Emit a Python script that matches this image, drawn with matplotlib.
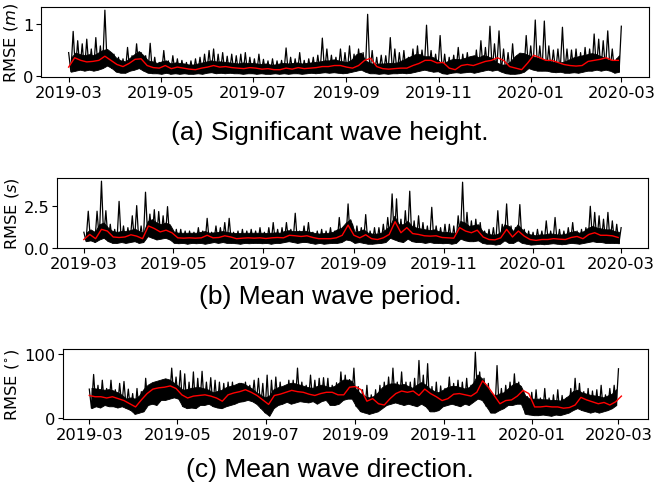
import numpy as np
import pandas as pd
import matplotlib
matplotlib.use("Agg")
import matplotlib.pyplot as plt
import matplotlib.dates as mdates

# RMSE readings, 2019-03-01 .. 2020-03-01
# *_peak: spike tops every 3 days; *_low: troughs 1.5 days later;
# *_band: top of the solid black band at the trough dates; *_mean: red line, every 4 days
hs_peak = [0.45, 0.86, 0.68, 0.62, 0.71, 0.52, 0.74, 0.58, 1.27, 0.45,
           0.42, 0.36, 0.33, 0.55, 0.39, 0.62, 0.45, 0.39, 0.63, 0.36,
           0.26, 0.49, 0.29, 0.39, 0.33, 0.30, 0.26, 0.29, 0.33, 0.36,
           0.42, 0.49, 0.52, 0.42, 0.45, 0.38, 0.42, 0.39, 0.42, 0.45,
           0.36, 0.33, 0.42, 0.32, 0.29, 0.33, 0.29, 0.30, 0.54, 0.36,
           0.33, 0.45, 0.30, 0.33, 0.36, 0.40, 0.73, 0.52, 0.40, 0.36,
           0.52, 0.45, 0.58, 0.42, 0.52, 0.45, 1.19, 0.49, 0.36, 0.40,
           0.39, 0.74, 0.52, 0.45, 0.49, 0.36, 0.52, 0.58, 0.50, 0.98,
           0.49, 0.42, 0.78, 0.42, 0.36, 0.40, 0.55, 0.42, 0.45, 0.36,
           0.50, 0.68, 0.55, 0.96, 0.62, 0.87, 0.52, 0.45, 0.62, 0.39,
           0.33, 0.78, 0.58, 1.08, 0.58, 1.06, 0.58, 0.50, 0.52, 0.94,
           0.52, 0.50, 0.52, 0.45, 0.55, 0.52, 0.81, 0.71, 0.68, 0.87,
           0.52, 0.33, 0.96]
hs_low = [0.08, 0.10, 0.12, 0.10, 0.12, 0.10, 0.12, 0.15, 0.20, 0.15,
          0.08, 0.06, 0.06, 0.10, 0.12, 0.15, 0.10, 0.06, 0.05, 0.05,
          0.04, 0.06, 0.04, 0.05, 0.04, 0.05, 0.04, 0.04, 0.05, 0.04,
          0.06, 0.07, 0.05, 0.06, 0.05, 0.06, 0.05, 0.05, 0.04, 0.05,
          0.05, 0.04, 0.05, 0.04, 0.04, 0.05, 0.04, 0.05, 0.04, 0.05,
          0.05, 0.04, 0.05, 0.06, 0.05, 0.06, 0.07, 0.06, 0.07, 0.06,
          0.05, 0.06, 0.08, 0.10, 0.12, 0.08, 0.05, 0.05, 0.04, 0.05,
          0.04, 0.05, 0.05, 0.06, 0.05, 0.06, 0.08, 0.10, 0.12, 0.10,
          0.08, 0.09, 0.05, 0.04, 0.06, 0.07, 0.06, 0.07, 0.08, 0.06,
          0.08, 0.10, 0.12, 0.10, 0.12, 0.08, 0.05, 0.04, 0.04, 0.05,
          0.08, 0.15, 0.12, 0.10, 0.10, 0.10, 0.08, 0.07, 0.08, 0.06,
          0.06, 0.07, 0.06, 0.08, 0.10, 0.10, 0.12, 0.10, 0.12, 0.10,
          0.06, 0.08]
hs_band = [0.35, 0.45, 0.42, 0.40, 0.42, 0.40, 0.45, 0.50, 0.52, 0.45,
           0.35, 0.30, 0.28, 0.35, 0.42, 0.48, 0.40, 0.30, 0.28, 0.25,
           0.28, 0.30, 0.24, 0.26, 0.25, 0.24, 0.22, 0.22, 0.24, 0.26,
           0.28, 0.30, 0.28, 0.28, 0.27, 0.26, 0.25, 0.24, 0.26, 0.25,
           0.25, 0.24, 0.23, 0.24, 0.22, 0.22, 0.24, 0.25, 0.24, 0.25,
           0.26, 0.24, 0.25, 0.26, 0.27, 0.28, 0.30, 0.30, 0.32, 0.30,
           0.28, 0.27, 0.32, 0.42, 0.45, 0.30, 0.25, 0.23, 0.24, 0.24,
           0.25, 0.25, 0.26, 0.30, 0.34, 0.38, 0.42, 0.42, 0.38, 0.38,
           0.36, 0.30, 0.24, 0.28, 0.32, 0.33, 0.32, 0.35, 0.38, 0.40,
           0.36, 0.40, 0.38, 0.34, 0.26, 0.22, 0.22, 0.28, 0.38, 0.45,
           0.44, 0.40, 0.38, 0.35, 0.33, 0.30, 0.28, 0.27, 0.26, 0.28,
           0.32, 0.36, 0.38, 0.40, 0.42, 0.44, 0.42, 0.38, 0.34, 0.30,
           0.30, 0.40]
hs_mean = [0.17, 0.35, 0.30, 0.27, 0.28, 0.30, 0.38, 0.30, 0.22, 0.18,
           0.24, 0.32, 0.33, 0.20, 0.16, 0.15, 0.20, 0.14, 0.17, 0.15,
           0.13, 0.12, 0.15, 0.17, 0.20, 0.17, 0.18, 0.16, 0.15, 0.14,
           0.16, 0.15, 0.13, 0.14, 0.12, 0.12, 0.15, 0.13, 0.16, 0.14,
           0.15, 0.16, 0.18, 0.18, 0.20, 0.20, 0.17, 0.15, 0.20, 0.30,
           0.34, 0.18, 0.14, 0.13, 0.14, 0.15, 0.15, 0.20, 0.24, 0.30,
           0.30, 0.25, 0.26, 0.15, 0.12, 0.20, 0.22, 0.20, 0.24, 0.28,
           0.30, 0.35, 0.30, 0.18, 0.15, 0.12, 0.25, 0.40, 0.35, 0.30,
           0.30, 0.26, 0.22, 0.20, 0.19, 0.20, 0.28, 0.30, 0.32, 0.35,
           0.30, 0.30]

tm_peak = [0.93, 2.17, 0.93, 2.17, 3.94, 2.20, 1.40, 1.10, 2.75, 1.30,
           1.20, 1.90, 2.50, 1.30, 3.29, 2.00, 2.26, 2.15, 1.90, 2.44,
           0.95, 1.10, 1.10, 1.00, 1.00, 0.93, 1.20, 1.00, 1.75, 0.93,
           1.30, 1.20, 1.50, 1.75, 0.93, 1.00, 1.10, 1.00, 1.10, 1.00,
           1.20, 0.93, 1.20, 1.50, 1.10, 1.20, 1.50, 1.10, 2.05, 1.00,
           1.30, 1.50, 0.93, 1.00, 1.10, 1.00, 1.20, 1.00, 1.80, 1.10,
           2.60, 1.40, 1.30, 1.20, 1.97, 1.00, 1.20, 1.20, 1.40, 1.80,
           3.19, 2.90, 1.70, 2.20, 3.35, 1.60, 1.90, 1.50, 1.30, 2.40,
           1.30, 1.20, 1.40, 1.40, 1.30, 1.90, 3.88, 2.10, 1.60, 1.70,
           1.50, 1.00, 1.10, 1.20, 2.20, 1.40, 2.60, 1.30, 1.20, 2.56,
           1.10, 1.00, 0.93, 1.10, 1.00, 1.60, 1.00, 1.80, 1.10, 1.00,
           1.20, 1.50, 1.00, 1.10, 1.20, 2.46, 2.10, 1.90, 1.70, 2.10,
           1.60, 1.40, 1.20]
tm_low = [0.40, 0.45, 0.35, 0.50, 0.60, 0.40, 0.30, 0.30, 0.35, 0.30,
          0.35, 0.40, 0.30, 0.35, 0.70, 0.60, 0.50, 0.55, 0.60, 0.50,
          0.30, 0.28, 0.30, 0.25, 0.30, 0.28, 0.30, 0.25, 0.30, 0.35,
          0.30, 0.35, 0.30, 0.30, 0.28, 0.25, 0.30, 0.28, 0.30, 0.30,
          0.28, 0.30, 0.25, 0.30, 0.30, 0.35, 0.40, 0.35, 0.30, 0.35,
          0.35, 0.30, 0.25, 0.30, 0.25, 0.28, 0.30, 0.30, 0.35, 0.50,
          0.45, 0.30, 0.35, 0.30, 0.25, 0.25, 0.28, 0.30, 0.35, 0.60,
          0.50, 0.40, 0.35, 0.55, 0.40, 0.35, 0.35, 0.30, 0.35, 0.30,
          0.30, 0.28, 0.30, 0.25, 0.30, 0.55, 0.45, 0.40, 0.40, 0.45,
          0.30, 0.25, 0.25, 0.20, 0.25, 0.45, 0.30, 0.30, 0.45, 0.30,
          0.25, 0.20, 0.22, 0.25, 0.22, 0.25, 0.28, 0.25, 0.22, 0.25,
          0.30, 0.28, 0.25, 0.30, 0.35, 0.40, 0.35, 0.35, 0.30, 0.30,
          0.30, 0.28]
tm_band = [0.90, 1.10, 0.95, 1.40, 1.50, 1.20, 1.00, 0.95, 1.00, 1.00,
           1.05, 1.15, 1.00, 0.90, 1.60, 1.70, 1.50, 1.40, 1.50, 1.40,
           0.95, 0.90, 0.90, 0.90, 0.90, 0.90, 0.95, 1.00, 0.90, 0.92,
           0.95, 1.00, 0.95, 0.90, 0.88, 0.88, 0.90, 0.90, 0.90, 0.90,
           0.90, 0.88, 0.90, 0.92, 0.90, 1.00, 1.05, 1.00, 1.00, 1.00,
           1.00, 0.95, 0.88, 0.85, 0.88, 0.90, 0.95, 1.10, 1.20, 1.50,
           1.70, 0.95, 1.00, 1.10, 0.90, 0.85, 0.85, 0.90, 1.10, 1.30,
           1.90, 1.40, 1.40, 1.60, 1.30, 1.20, 1.15, 1.10, 1.05, 1.10,
           1.00, 0.95, 0.95, 0.90, 0.90, 1.60, 1.50, 1.30, 1.35, 1.40,
           1.00, 0.85, 0.80, 0.80, 0.90, 1.40, 1.30, 1.00, 1.40, 1.10,
           0.85, 0.80, 0.75, 0.80, 0.80, 0.85, 0.85, 0.80, 0.80, 0.85,
           0.95, 1.00, 0.90, 1.00, 1.20, 1.30, 1.20, 1.15, 1.10, 1.10,
           1.00, 0.95]
tm_mean = [0.50, 0.80, 0.55, 1.10, 1.00, 0.65, 0.62, 0.65, 0.78, 0.70,
           0.55, 1.30, 1.15, 0.95, 1.05, 0.90, 0.60, 0.58, 0.60, 0.58,
           0.60, 0.75, 0.60, 0.62, 0.72, 0.65, 0.55, 0.58, 0.60, 0.58,
           0.60, 0.56, 0.60, 0.62, 0.60, 0.75, 0.72, 0.68, 0.72, 0.62,
           0.55, 0.55, 0.55, 0.60, 0.75, 1.35, 0.75, 0.60, 0.78, 0.55,
           0.50, 0.60, 0.80, 1.55, 0.90, 1.20, 0.85, 0.80, 0.72, 0.70,
           0.72, 0.62, 0.60, 0.58, 1.20, 1.00, 0.90, 1.05, 0.65, 0.50,
           0.48, 0.60, 1.10, 0.65, 1.00, 0.70, 0.50, 0.45, 0.50, 0.50,
           0.55, 0.52, 0.50, 0.62, 0.68, 0.55, 0.80, 0.90, 0.75, 0.75,
           0.72, 0.62]

md_peak = [45, 68, 51, 59, 46, 59, 44, 54, 57, 45,
           38, 46, 41, 62, 46, 51, 48, 59, 51, 78,
           64, 74, 69, 56, 72, 62, 73, 56, 63, 59,
           56, 54, 56, 56, 51, 54, 56, 51, 59, 62,
           54, 67, 59, 64, 56, 46, 59, 59, 78, 56,
           51, 67, 59, 62, 63, 62, 51, 55, 72, 67,
           60, 78, 49, 44, 51, 36, 44, 51, 56, 64,
           78, 56, 72, 56, 56, 62, 90, 67, 85, 49,
           56, 50, 46, 64, 54, 59, 56, 62, 51, 103,
           72, 62, 54, 33, 82, 46, 51, 56, 69, 56,
           40, 33, 40, 44, 31, 46, 31, 36, 44, 35,
           31, 46, 62, 54, 41, 46, 42, 44, 51, 36,
           46, 51, 77]
md_low = [15, 18, 16, 20, 18, 18, 16, 18, 15, 12,
          6, 8, 10, 20, 22, 20, 28, 28, 30, 32,
          30, 18, 15, 16, 15, 20, 20, 22, 18, 16,
          15, 18, 20, 22, 25, 26, 28, 26, 22, 15,
          8, 3, 15, 20, 22, 25, 22, 24, 26, 25,
          24, 26, 22, 26, 28, 20, 20, 22, 28, 30,
          30, 18, 10, 8, 6, 8, 10, 15, 20, 22,
          24, 22, 20, 22, 20, 18, 22, 18, 10, 10,
          12, 18, 20, 22, 20, 18, 22, 20, 25, 30,
          28, 18, 8, 8, 12, 15, 20, 20, 22, 22,
          6, 5, 4, 4, 5, 4, 3, 5, 4, 6,
          8, 12, 15, 12, 10, 8, 10, 8, 10, 12,
          15, 20]
md_band = [47, 46, 45, 44, 45, 43, 40, 36, 30, 32,
           30, 35, 45, 52, 56, 58, 60, 62, 60, 55,
           50, 44, 45, 47, 48, 48, 46, 44, 40, 42,
           44, 48, 50, 52, 55, 54, 50, 46, 40, 36,
           32, 35, 45, 48, 50, 53, 55, 54, 52, 50,
           48, 47, 50, 52, 50, 48, 50, 55, 60, 60,
           58, 45, 38, 34, 32, 34, 40, 48, 52, 54,
           54, 52, 53, 50, 47, 52, 56, 52, 46, 42,
           40, 44, 48, 50, 50, 48, 46, 48, 55, 68,
           62, 50, 40, 35, 38, 40, 46, 52, 55, 50,
           35, 30, 30, 30, 29, 29, 28, 28, 27, 30,
           35, 42, 44, 40, 38, 36, 35, 34, 32, 35,
           38, 45]
md_mean = [35, 33, 33, 31, 33, 30, 27, 22, 17, 28,
           38, 45, 47, 48, 50, 46, 36, 31, 34, 35,
           36, 34, 31, 26, 36, 39, 41, 44, 40, 35,
           28, 21, 35, 37, 40, 43, 41, 40, 37, 35,
           38, 40, 40, 36, 36, 48, 49, 44, 26, 30,
           22, 20, 30, 38, 42, 40, 42, 35, 45, 38,
           33, 27, 30, 37, 38, 36, 34, 40, 58, 48,
           35, 22, 27, 28, 34, 43, 38, 17, 17, 18,
           17, 17, 15, 16, 20, 32, 28, 25, 22, 24,
           20, 25, 34]

ylabels = ["RMSE ($m$)", "RMSE ($s$)", "RMSE ($^{\\circ}$)"]
captions = ["(a) Significant wave height.", "(b) Mean wave period.",
            "(c) Mean wave direction."]
yticks = [[0, 1], [0, 2.5], [0, 100]]


def zigzag(peaks, lows):
    # peak, trough, peak, trough ... every 36 hours
    vals = []
    for i, p in enumerate(peaks):
        vals.append(p)
        if i < len(lows):
            vals.append(lows[i])
    dates = pd.date_range("2019-03-01", periods=len(vals), freq="36h")
    return dates, np.array(vals)


fig = plt.figure(figsize=(6.55, 4.85), dpi=100)
rects = [[0.0626, 0.8392, 0.9282, 0.1443],
         [0.0870, 0.4866, 0.9023, 0.1443],
         [0.0957, 0.1340, 0.8936, 0.1443]]
cap_y = [0.726, 0.388, 0.031]
series = [(hs_peak, hs_low, hs_band, hs_mean),
          (tm_peak, tm_low, tm_band, tm_mean),
          (md_peak, md_low, md_band, md_mean)]

for k, (peaks, lows, band, mean) in enumerate(series):
    ax = fig.add_axes(rects[k])
    d, v = zigzag(peaks, lows)
    ax.plot(d, v, color="black", lw=0.9)
    low_dates = pd.date_range("2019-03-02 12:00", periods=len(lows), freq="3D")
    ax.fill_between(low_dates, lows, band, color="black", lw=0.6)
    md = pd.date_range("2019-03-01", periods=len(mean), freq="4D")
    ax.plot(md, mean, color="red", lw=1.0)
    ax.set_yticks(yticks[k])
    ax.set_ylabel(ylabels[k], fontsize=11.7, labelpad=2)
    ax.xaxis.set_major_locator(mdates.MonthLocator(bymonth=[1, 3, 5, 7, 9, 11]))
    ax.xaxis.set_major_formatter(mdates.DateFormatter("%Y-%m"))
    ax.tick_params(labelsize=11.7, pad=2)
    fig.text(0.504, cap_y[k], captions[k], ha="center", va="center",
             fontsize=19, family="Liberation Sans")

fig.savefig("out.png", dpi=100)
